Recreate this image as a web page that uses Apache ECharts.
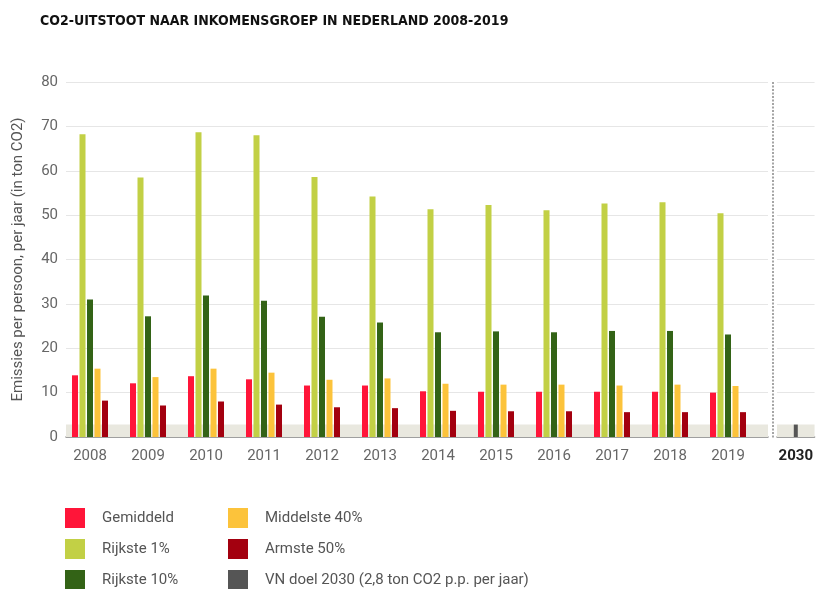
<!DOCTYPE html>
<html>
<head>
<meta charset="utf-8">
<script src="https://cdn.jsdelivr.net/npm/echarts@6/dist/echarts.min.js"></script>
<style>
html,body{margin:0;padding:0;background:#fff;}
#c{width:816px;height:589px;}
</style>
</head>
<body>
<div id="c"></div>
<script>
const title = 'CO2-UITSTOOT NAAR INKOMENSGROEP IN NEDERLAND 2008-2019';
const years = ['2008','2009','2010','2011','2012','2013','2014','2015','2016','2017','2018','2019'];
const targetYear = ['2030'];
const yTicks = { min: 0, max: 80, interval: 10 };
const gemiddeld   = [13.9, 12.1, 13.7, 13.0, 11.6, 11.6, 10.3, 10.2, 10.2, 10.2, 10.2, 10.0];
const rijkste1    = [68.2, 58.5, 68.7, 68.0, 58.6, 54.2, 51.3, 52.3, 51.1, 52.6, 52.9, 50.4];
const rijkste10   = [31.0, 27.2, 31.9, 30.7, 27.1, 25.8, 23.6, 23.8, 23.6, 23.9, 23.9, 23.1];
const middelste40 = [15.4, 13.5, 15.4, 14.5, 12.9, 13.2, 12.0, 11.8, 11.8, 11.6, 11.8, 11.5];
const armste50    = [8.2, 7.1, 8.0, 7.3, 6.7, 6.5, 5.9, 5.8, 5.8, 5.6, 5.6, 5.6];
const vnDoel      = [2.8];
const names = ['Gemiddeld','Rijkste 1%','Rijkste 10%','Middelste 40%','Armste 50%','VN doel 2030 (2,8 ton CO2 p.p. per jaar)'];
const colors = ['#ff1539','#c2d045','#336316','#fcc33b','#a3000f','#555555'];

const FONT = 'Roboto, "Noto Sans", sans-serif';
const chart = echarts.init(document.getElementById('c'), null, {renderer:'canvas'});

const yBase = (show, idx) => ({
  type:'value', gridIndex: idx, min: yTicks.min, max: yTicks.max, interval: yTicks.interval,
  axisLine:{show:false}, axisTick:{show:false},
  axisLabel:{show: show, color:'#666', fontSize:15, fontFamily:FONT, margin:8},
  splitLine:{show: idx !== 1, lineStyle:{color:'#e6e6e6', width:1}}
});

const band = { silent:true, itemStyle:{color:'#e9e8df'}, data:[[{yAxis:0},{yAxis:vnDoel[0]}]] };

const barSeries = [gemiddeld, rijkste1, rijkste10, middelste40, armste50].map((d,i)=>({
  name: names[i], type:'bar', xAxisIndex:1, yAxisIndex:1, data:d,
  barWidth:6, barGap:'25%', itemStyle:{color:colors[i]}, z:3
}));

const legendCommon = {
  orient:'vertical', itemWidth:20, itemHeight:20, itemGap:11, icon:'rect',
  selectedMode:false, padding:0, height:120,
  textStyle:{color:'#555', fontSize:15, fontFamily:FONT, padding:[0,0,0,12]}
};

chart.setOption({
  animation:false,
  title:{text:title, left:40, top:14, padding:0,
    textStyle:{fontFamily:'"DejaVu Sans Condensed", sans-serif', fontWeight:'bold', fontSize:14, color:'#111'}},
  color: colors,
  legend:[
    Object.assign({left:65, top:508, data:names.slice(0,3)}, legendCommon),
    Object.assign({left:228, top:508, data:names.slice(3,6)}, legendCommon)
  ],
  graphic:[{type:'line', shape:{x1:773,y1:82,x2:773,y2:438}, style:{stroke:'#888', lineWidth:1.5, lineDash:[2,1.5]}, silent:true}],
  grid:[
    {left:66, right:48, top:82, height:355},
    {left:61, width:696, top:82, height:355},
    {left:777, right:0, top:82, height:355}
  ],
  xAxis:[
    {type:'category', gridIndex:0, data:years, axisLabel:{show:false}, axisTick:{show:false},
     axisLine:{show:true, lineStyle:{color:'#888', width:1.5}}},
    {type:'category', gridIndex:1, data:years, axisLine:{show:false}, axisTick:{show:false},
     axisLabel:{color:'#666', fontSize:15, fontFamily:FONT, margin:12}},
    {type:'category', gridIndex:2, data:targetYear, axisTick:{show:false},
     axisLine:{show:true, lineStyle:{color:'#888', width:1.5}},
     axisLabel:{color:'#222', fontSize:15, fontWeight:'bold', fontFamily:FONT, margin:12}}
  ],
  yAxis:[
    Object.assign(yBase(true,0), {name:'Emissies per persoon, per jaar (in ton CO2)', nameLocation:'middle', nameGap:40,
      nameTextStyle:{color:'#555', fontSize:15, fontFamily:FONT}}),
    Object.assign(yBase(false,1), {splitLine:{show:false}}),
    yBase(false,2)
  ],
  series:[
    {type:'line', xAxisIndex:0, yAxisIndex:0, data:[], silent:true, z:1, markArea: band},
    ...barSeries,
    {name:names[5], type:'bar', xAxisIndex:2, yAxisIndex:2, data:vnDoel, barWidth:4,
     itemStyle:{color:colors[5]}, z:3, markArea: band}
  ]
});
</script>
</body>
</html>
